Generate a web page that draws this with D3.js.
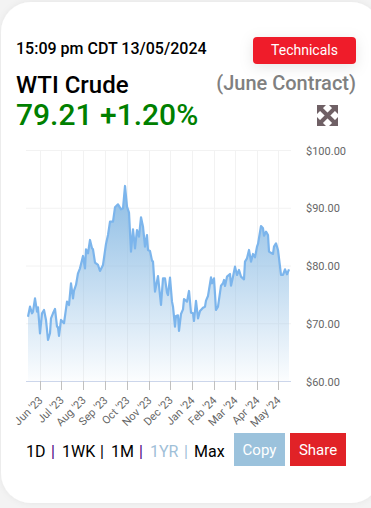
<!DOCTYPE html>
<html>

<head>
    <meta charset="utf-8" />
    <title>WTI Crude</title>
    <script src="https://d3js.org/d3.v7.min.js"></script>
    <style>
        html,
        body {
            margin: 0;
            padding: 0;
            background-color: #f3f3f3;
            overflow: hidden;
        }

        svg {
            display: block;
            font-family: Roboto, sans-serif;
        }
    </style>
</head>

<body>
    <svg id="chart" width="371" height="508"></svg>

    <script>
        // trading day number and closing price
        var days = [0, 2, 4, 5, 7, 9, 10, 12, 14, 16, 18, 20, 22, 23, 25, 27, 29, 30, 31, 33, 36, 39, 41, 43, 45, 46, 48, 50, 52, 55, 57, 58, 60, 62, 64, 65, 67, 70, 72, 75, 78, 80, 82, 85, 87, 90, 93, 95, 97, 99, 101, 103, 105, 107, 109, 111, 113, 115, 117, 119, 120, 122, 124, 125, 127, 130, 133, 135, 137, 139, 140, 142, 144, 145, 147, 148, 150, 151, 153, 155, 156, 159, 161, 163, 165, 166, 168, 170, 172, 175, 177, 178, 180, 183, 184, 186, 188, 190, 193, 195, 196, 197, 199, 202, 203, 205, 207, 209, 211, 213, 216, 217, 219, 221, 223, 225, 227, 229, 230, 233, 235, 236, 238, 240, 241, 245, 246, 248, 250, 253, 255, 257, 259, 261];
        var prices = [71.14, 72.87, 71.72, 72.01, 74.32, 72.01, 72.76, 68.26, 71.72, 72.30, 70.57, 67.10, 68.26, 70.85, 71.72, 72.47, 69.41, 69.30, 67.80, 70.57, 70.00, 73.74, 73.16, 76.92, 74.32, 75.65, 76.63, 78.65, 79.51, 81.65, 79.51, 82.80, 82.11, 84.42, 82.98, 82.80, 80.49, 80.09, 79.05, 80.09, 83.73, 85.28, 87.59, 87.59, 90.07, 90.59, 89.73, 89.90, 93.77, 90.19, 89.15, 82.40, 86.27, 82.98, 86.15, 85.00, 88.34, 86.73, 83.26, 85.28, 82.69, 82.51, 80.84, 80.67, 75.47, 78.18, 73.16, 77.78, 77.78, 75.30, 74.89, 77.90, 73.74, 72.87, 69.41, 71.26, 71.37, 68.66, 71.60, 72.41, 74.20, 73.74, 75.59, 71.84, 71.72, 70.39, 73.86, 70.85, 72.12, 72.70, 72.87, 73.91, 74.72, 77.95, 76.92, 77.78, 72.30, 72.87, 76.51, 76.92, 77.49, 76.45, 78.07, 78.53, 76.51, 78.07, 79.80, 78.36, 79.22, 78.07, 77.61, 80.67, 81.24, 82.69, 80.67, 82.00, 81.42, 83.26, 83.73, 86.84, 86.44, 85.17, 85.86, 85.28, 82.40, 82.00, 83.26, 83.84, 82.69, 78.36, 78.36, 79.34, 78.47, 79.34];

        var monthDays = [12, 33, 55, 77, 99, 121, 142, 164, 186, 207, 229, 250];
        var monthLabels = ["Jun '23", "Jul '23", "Aug '23", "Sep '23", "Oct '23", "Nov '23", "Dec '23", "Jan '24", "Feb '24", "Mar '24", "Apr '24", "May '24"];
        var priceTicks = [60, 70, 80, 90, 100];
        var rangeLabels = ["1D", "1WK", "1M", "1YR", "Max"];

        var svg = d3.select("#chart");

        var defs = svg.append("defs");
        var shadow = defs.append("filter").attr("id", "cardShadow")
            .attr("x", "-10%").attr("y", "-10%").attr("width", "120%").attr("height", "120%");
        shadow.append("feDropShadow").attr("dx", 0).attr("dy", 0)
            .attr("stdDeviation", 3).attr("flood-color", "#000").attr("flood-opacity", 0.06);
        var btnShadow = defs.append("filter").attr("id", "btnShadow")
            .attr("x", "-30%").attr("y", "-60%").attr("width", "160%").attr("height", "240%");
        btnShadow.append("feDropShadow").attr("dx", 0).attr("dy", 3)
            .attr("stdDeviation", 7).attr("flood-color", "#000").attr("flood-opacity", 0.1);
        var grad = defs.append("linearGradient").attr("id", "areaFill")
            .attr("x1", 0).attr("y1", 0).attr("x2", 0).attr("y2", 1);
        grad.append("stop").attr("offset", "0%").attr("stop-color", "#8cbce4");
        grad.append("stop").attr("offset", "100%").attr("stop-color", "#8cbce4").attr("stop-opacity", 0.03);

        // card
        svg.append("rect").attr("x", 1).attr("y", 2).attr("width", 380).attr("height", 501)
            .attr("rx", 30).attr("fill", "#fff").attr("filter", "url(#cardShadow)");

        // header
        function label(x, y, txt, size, weight, color, anchor) {
            return svg.append("text").attr("x", x).attr("y", y).text(txt)
                .attr("font-size", size).attr("font-weight", weight).attr("fill", color)
                .attr("text-anchor", anchor || "start");
        }
        label(16, 54, "15:09 pm CDT 13/05/2024", 16, 500, "#000");
        label(16, 93, "WTI Crude", 24, 500, "#000");
        label(16, 125, "79.21 +1.20%", 30, 500, "#008000");
        label(356, 90, "(June Contract)", 20, 500, "#808080", "end");

        svg.append("rect").attr("x", 253).attr("y", 37).attr("width", 103).attr("height", 27)
            .attr("rx", 4).attr("fill", "#ef1c29").attr("filter", "url(#btnShadow)");
        label(304.5, 55, "Technicals", 14, 400, "#fff", "middle");

        // expand icon
        var icon = svg.append("g").attr("transform", "translate(317,105)");
        icon.append("path")
            .attr("d", "M0 0H9L0 9Z M21 0V9L12 0Z M0 21V12L9 21Z M21 21H12L21 12Z")
            .attr("fill", "#6f6065");
        icon.append("path")
            .attr("d", "M3 3L18 18M18 3L3 18")
            .attr("fill", "none").attr("stroke", "#6f6065").attr("stroke-width", 4);

        // chart
        var x = d3.scaleLinear().domain([0, 261]).range([28, 289]);
        var y = d3.scaleLinear().domain([60, 100]).range([381, 150]);

        var grid = svg.append("g");
        grid.selectAll(".h").data(priceTicks).enter().append("line")
            .attr("x1", 26).attr("x2", 291)
            .attr("y1", function (d) { return y(d) + 0.5; })
            .attr("y2", function (d) { return y(d) + 0.5; })
            .attr("stroke", "#f2f2f2");
        grid.selectAll(".v").data(monthDays).enter().append("line")
            .attr("x1", function (d) { return Math.floor(x(d)) + 0.5; })
            .attr("x2", function (d) { return Math.floor(x(d)) + 0.5; })
            .attr("y1", 150).attr("y2", 381)
            .attr("stroke", "#f2f2f2");

        var area = d3.area()
            .x(function (d, i) { return x(days[i]); })
            .y0(y(60))
            .y1(function (d) { return y(d); });
        var line = d3.line()
            .x(function (d, i) { return x(days[i]); })
            .y(function (d) { return y(d); });

        svg.append("path").datum(prices).attr("d", area).attr("fill", "url(#areaFill)");
        svg.append("path").datum(prices).attr("d", line)
            .attr("fill", "none").attr("stroke", "#7cb5ec").attr("stroke-width", 2.2)
            .attr("stroke-linejoin", "round");

        // x axis
        var xAxis = svg.append("g").attr("transform", "translate(0,381)")
            .call(d3.axisBottom(x).tickValues(monthDays).tickSize(9).tickSizeOuter(0)
                .tickFormat(function (d, i) { return monthLabels[i]; }));
        xAxis.select(".domain").attr("d", "M26,0.5H291").attr("stroke", "#ccd6eb");
        xAxis.selectAll(".tick line").attr("stroke", "#c0c0c0");
        xAxis.selectAll(".tick text")
            .attr("font-family", "Roboto, sans-serif").attr("font-size", 11).attr("fill", "#666")
            .attr("text-anchor", "end")
            .attr("y", 0).attr("dy", 0)
            .attr("transform", "translate(3,20) rotate(-45)");

        // y axis labels
        var yAxis = svg.append("g").attr("transform", "translate(306,0.5)")
            .call(d3.axisRight(y).tickValues(priceTicks).tickSize(0)
                .tickFormat(function (d) { return "$" + d3.format(".2f")(d); }));
        yAxis.select(".domain").remove();
        yAxis.selectAll(".tick text").attr("x", 0)
            .attr("font-family", "Roboto, sans-serif").attr("font-size", 11).attr("fill", "#666");

        // range selector
        var rangeX = [26, 62, 111, 150, 194];
        var rangeColor = ["#000", "#000", "#000", "#9fc0d8", "#000"];
        var sepX = [51, 100, 139, 184];
        var sepColor = ["#4b0082", "#000", "#4b0082", "#9fc0d8"];
        rangeLabels.forEach(function (r, i) {
            label(rangeX[i], 457, r, 16, 400, rangeColor[i]);
        });
        sepX.forEach(function (s, i) {
            label(s, 457, "|", 16, 400, sepColor[i]);
        });

        svg.append("rect").attr("x", 234).attr("y", 433).attr("width", 51).attr("height", 33).attr("fill", "#9bc2dc");
        label(259.5, 455, "Copy", 15, 400, "#fff", "middle");
        svg.append("rect").attr("x", 290).attr("y", 433).attr("width", 56).attr("height", 33).attr("fill", "#e12227");
        label(318, 455, "Share", 15, 400, "#fff", "middle");
    </script>

</body>

</html>
